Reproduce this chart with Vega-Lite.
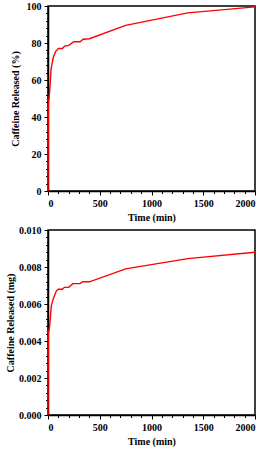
{
  "$schema": "https://vega.github.io/schema/vega-lite/v6.json",
  "padding": {"left": 4, "top": 0, "right": 5, "bottom": 2},
  "spacing": 1,
  "datasets": {
    "pct": [
      {"t": 0, "v": 0}, {"t": 3, "v": 47}, {"t": 15, "v": 53}, {"t": 30, "v": 66},
      {"t": 50, "v": 72}, {"t": 75, "v": 75.5}, {"t": 100, "v": 77}, {"t": 140, "v": 77},
      {"t": 160, "v": 78.3}, {"t": 200, "v": 78.7}, {"t": 250, "v": 80.7}, {"t": 310, "v": 80.7},
      {"t": 340, "v": 82}, {"t": 400, "v": 82.3}, {"t": 750, "v": 89.5}, {"t": 1350, "v": 96.3},
      {"t": 2000, "v": 99.5}
    ],
    "mg": [
      {"t": 0, "v": 0}, {"t": 3, "v": 0.0044}, {"t": 16, "v": 0.0048}, {"t": 32, "v": 0.0059},
      {"t": 52, "v": 0.0063}, {"t": 80, "v": 0.0067}, {"t": 100, "v": 0.0068}, {"t": 140, "v": 0.0068},
      {"t": 158, "v": 0.0069}, {"t": 200, "v": 0.0069}, {"t": 240, "v": 0.0071}, {"t": 310, "v": 0.0071},
      {"t": 335, "v": 0.0072}, {"t": 400, "v": 0.0072}, {"t": 750, "v": 0.0079}, {"t": 1350, "v": 0.00845},
      {"t": 2000, "v": 0.0088}
    ]
  },
  "vconcat": [
    {
      "width": 207,
      "height": 185,
      "data": {"name": "pct"},
      "layer": [
        {
          "mark": {"type": "line", "color": "#ff0000", "strokeWidth": 1.4},
          "encoding": {
            "x": {"field": "t", "type": "quantitative", "scale": {"domain": [0, 2000], "nice": false},
                  "axis": {"values": [0, 500, 1000, 1500, 2000], "format": "d", "title": "Time (min)", "orient": "bottom"}},
            "y": {"field": "v", "type": "quantitative", "scale": {"domain": [0, 100], "nice": false},
                  "axis": {"values": [0, 20, 40, 60, 80, 100], "format": "d", "title": "Caffeine Released (%)", "orient": "left", "titlePadding": 6}}
          }
        },
        {
          "mark": {"type": "line", "opacity": 0},
          "encoding": {
            "x": {"field": "t", "type": "quantitative",
                  "axis": {"values": [0,100,200,300,400,500,600,700,800,900,1000,1100,1200,1300,1400,1500,1600,1700,1800,1900,2000], "labels": false, "domain": false, "title": null, "tickSize": 2.5, "orient": "bottom"}},
            "y": {"field": "v", "type": "quantitative",
                  "axis": {"values": [0,4,8,12,16,20,24,28,32,36,40,44,48,52,56,60,64,68,72,76,80,84,88,92,96,100], "labels": false, "domain": false, "title": null, "tickSize": 2.5, "orient": "left"}}
          }
        }
      ],
      "resolve": {"axis": {"x": "independent", "y": "independent"}}
    },
    {
      "width": 207,
      "height": 185,
      "data": {"name": "mg"},
      "layer": [
        {
          "mark": {"type": "line", "color": "#ff0000", "strokeWidth": 1.4},
          "encoding": {
            "x": {"field": "t", "type": "quantitative", "scale": {"domain": [0, 2000], "nice": false},
                  "axis": {"values": [0, 500, 1000, 1500, 2000], "format": "d", "title": "Time (min)", "orient": "bottom"}},
            "y": {"field": "v", "type": "quantitative", "scale": {"domain": [0, 0.01], "nice": false},
                  "axis": {"values": [0, 0.002, 0.004, 0.006, 0.008, 0.01], "format": ".3f", "title": "Caffeine Released (mg)", "orient": "left", "titlePadding": 3}}
          }
        },
        {
          "mark": {"type": "line", "opacity": 0},
          "encoding": {
            "x": {"field": "t", "type": "quantitative",
                  "axis": {"values": [0,100,200,300,400,500,600,700,800,900,1000,1100,1200,1300,1400,1500,1600,1700,1800,1900,2000], "labels": false, "domain": false, "title": null, "tickSize": 2.5, "orient": "bottom"}},
            "y": {"field": "v", "type": "quantitative",
                  "axis": {"values": [0,0.0004,0.0008,0.0012,0.0016,0.002,0.0024,0.0028,0.0032,0.0036,0.004,0.0044,0.0048,0.0052,0.0056,0.006,0.0064,0.0068,0.0072,0.0076,0.008,0.0084,0.0088,0.0092,0.0096,0.01], "labels": false, "domain": false, "title": null, "tickSize": 2.5, "orient": "left"}}
          }
        }
      ],
      "resolve": {"axis": {"x": "independent", "y": "independent"}}
    }
  ],
  "config": {
    "view": {"stroke": "#000000", "strokeWidth": 1.5},
    "axis": {
      "grid": false,
      "domainColor": "#000000",
      "domainWidth": 1.5,
      "tickColor": "#000000",
      "tickWidth": 1,
      "tickSize": 4,
      "labelColor": "#000000",
      "titleColor": "#000000",
      "labelFont": "Liberation Serif",
      "titleFont": "Liberation Serif",
      "labelFontWeight": "bold",
      "titleFontWeight": "bold",
      "labelFontSize": 10,
      "titleFontSize": 10,
      "labelPadding": 3,
      "titlePadding": 4
    }
  }
}
